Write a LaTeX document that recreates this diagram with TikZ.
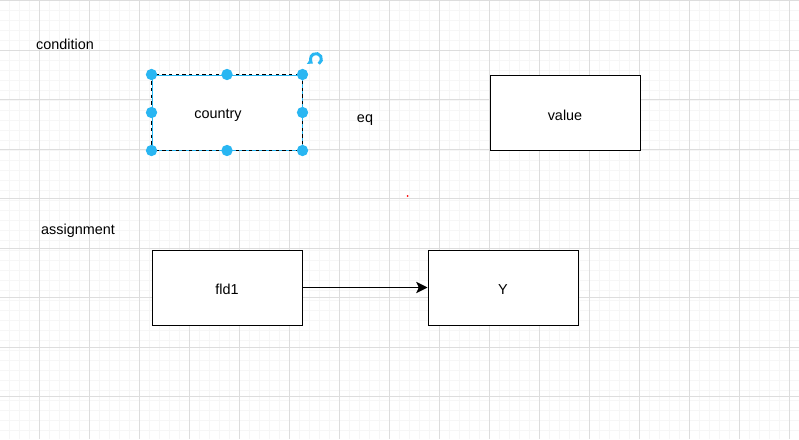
\documentclass[tikz,border=0pt]{standalone}
\usepackage{fontspec}
\setmainfont{Liberation Sans}
\usetikzlibrary{arrows.meta}
\definecolor{gridmaj}{HTML}{DDDDDD}
\definecolor{gridmin}{HTML}{F6F6F6}
\definecolor{selblue}{HTML}{29B6F2}
\tikzset{
  box/.style={draw=black, line width=0.75pt, minimum width=112.5pt, minimum height=56.25pt, inner sep=0pt, fill=white},
  txt/.style={font=\fontsize{10.8}{13}\selectfont, inner sep=0pt},
  handle/.style={fill=selblue, draw=none, circle, minimum size=8.5pt, inner sep=0pt},
  conn/.style={line width=0.75pt, -{Stealth[length=8.5pt, width=8.5pt, inset=2pt]}},
}
\begin{document}
\begin{tikzpicture}[x=0.75pt,y=-0.75pt]
\useasboundingbox (0,0) rectangle (799,439);
\fill[white] (0,0) rectangle (799,439);
% grid
\foreach \x in {9.5,19.5,...,799} \draw[gridmin, line width=0.75pt] (\x,0) -- (\x,439);
\foreach \y in {10,20,...,439} \draw[gridmin, line width=0.75pt] (0,\y) -- (799,\y);
\foreach \x in {39.5,89.5,...,799} \draw[gridmaj, line width=0.75pt] (\x,0) -- (\x,439);
\foreach \y in {0.5,50,...,439} \draw[gridmaj, line width=0.75pt] (0,\y) -- (799,\y);
% labels
\node[txt] (cond) at (65,44.5) {condition};
\node[txt] (eq) at (365,120) {eq};
\node[txt] (assign) at (78,231) {assignment};
% boxes
\node[box, draw=selblue] (country) at (227,112.5) {};
\node[txt] (countrytxt) at (218,115) {country};
\draw[black, line width=0.75pt, dash pattern=on 2.5pt off 2.5pt] (country.north west) rectangle (country.south east);
\node[box] (value) at (565,112.5) {};
\node[txt] at ([yshift=-2.5pt]value.center) {value};
\node[box] (fld1) at (227,287.5) {};
\node[txt] at ([yshift=-1.5pt]fld1.center) {fld1};
\node[box] (Y) at (503,287.5) {};
\node[txt] at ([yshift=-1.5pt]Y.center) {Y};
\draw[conn] (fld1) -- (Y);
% selection handles
\foreach \a in {north west,north,north east,west,east,south west,south,south east}
  \node[handle] at (country.\a) {};
% rotate icon
\coordinate (rot) at (316,59);
\draw[selblue, line width=2.2pt, -{Triangle[length=3.5pt,width=5.5pt]}] ([shift={(60:5.5)}]rot) arc[start angle=60, end angle=-235, radius=5.5];
% red dot
\fill[red] (407.5,196) circle[radius=1];
\end{tikzpicture}
\end{document}
